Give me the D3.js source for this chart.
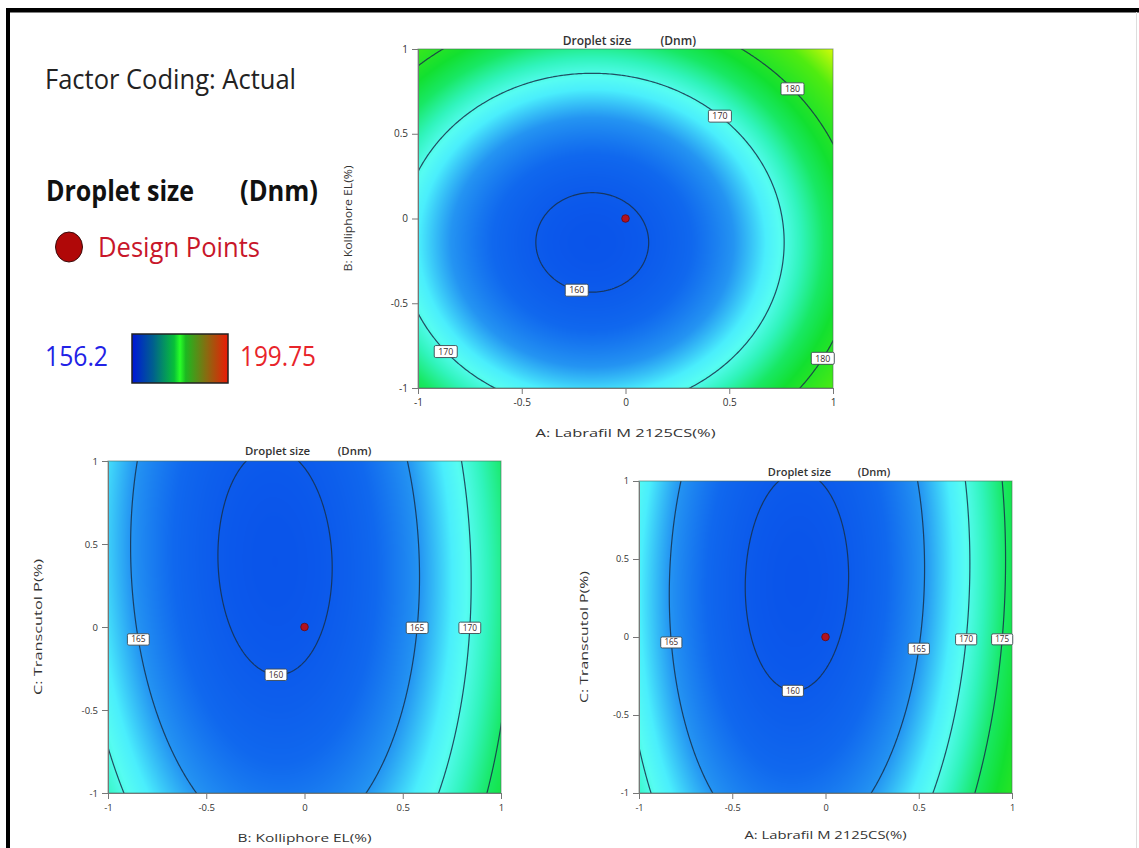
<!DOCTYPE html>
<html>
<head>
<meta charset="utf-8">
<script src="https://cdn.jsdelivr.net/npm/d3@7"></script>
<style>
	body { margin: 0; background: #fff; }
	svg text { font-family: "Open Sans", "Noto Sans", sans-serif; }
</style>
</head>
<body>
<svg id="chart" width="1139" height="848"></svg>
<script>

// response surface model (coded factors -1..1)
var factorNames  = ["A: Labrafil M 2125CS(%)", "B: Kolliphore EL(%)", "C: Transcutol P(%)"];
var termNames    = ["Intercept", "A", "B", "C", "AB", "AC", "BC", "A2", "B2", "C2"];
var coefficients = [159.6, 4.1, 3.1, -1.5, 0, -0.5, 0.5, 12.8, 11.0, 2.0];

var responseName  = "Droplet size";
var responseUnit  = "(Dnm)";
var responseRange = [156.2, 199.75];
var tickValues    = [-1, -0.5, 0, 0.5, 1];
var designPoints  = [[0, 0, 0]];

// contour levels and where their labels sit (level, x factor, y factor)
var levelsAB = [160, 170, 180];
var levelsBC = [160, 165, 170, 175];
var levelsAC = [160, 165, 170, 175];
var labelsAB = [[180, 0.83, 0.80], [170, 0.48, 0.64], [160, -0.23, -0.40], [170, -0.87, -0.78], [180, 0.925, -0.80]];
var labelsBC = [[165, -0.84, -0.07], [160, -0.14, -0.25], [165, 0.59, -0.01], [170, 0.86, -0.01]];
var labelsAC = [[165, -0.83, -0.04], [160, -0.17, -0.34], [165, 0.49, -0.07], [170, 0.74, -0.01], [175, 0.94, -0.01]];

// colour ramp used on the surface
var rampValues = [156.2, 159, 162, 165, 168, 169.5, 172, 175, 178, 185, 191, 199.75];
var rampColors = ["#0636d0", "#0a54ea", "#1068ee", "#2494f2", "#4aeefc", "#56fcf2", "#30f4bc", "#18e864", "#12e030", "#50ec10", "#dcfc08", "#ff2000"];


var svg = d3.select("#chart");

var color = d3.scaleLinear()
	.domain(rampValues)
	.range(rampColors)
	.interpolate(d3.interpolateRgb)
	.clamp(true);

function model(f) {
	var a = f[0], b = f[1], c = f[2], k = coefficients;
	return k[0] + k[1]*a + k[2]*b + k[3]*c + k[4]*a*b + k[5]*a*c + k[6]*b*c
		+ k[7]*a*a + k[8]*b*b + k[9]*c*c;
}

var panels = [
	{ xf: 0, yf: 1, levels: levelsAB, labels: labelsAB, left: 418, right: 833, top: 49, bottom: 388, s: 1.0,
	  titleY: 45, xlabY: 437, ylabX: 352, ylabLen: 106, xlabLen: 180 },
	{ xf: 1, yf: 2, levels: levelsBC, labels: labelsBC, left: 108, right: 501, top: 461, bottom: 793, s: 0.95,
	  titleY: 455, xlabY: 842, ylabX: 42, ylabLen: 136, xlabLen: 134 },
	{ xf: 0, yf: 2, levels: levelsAC, labels: labelsAC, left: 639, right: 1012, top: 481, bottom: 793, s: 0.92,
	  titleY: 476, xlabY: 839, ylabX: 588, ylabLen: 132, xlabLen: 162 }
];

panels.forEach(function(p, idx) {

	var sx = d3.scaleLinear().domain([-1, 1]).range([p.left, p.right]);
	var sy = d3.scaleLinear().domain([-1, 1]).range([p.bottom, p.top]);
	var w = p.right - p.left, h = p.bottom - p.top;

	var point = function(x, y) {
		var f = [0, 0, 0];
		f[p.xf] = x;
		f[p.yf] = y;
		return f;
	};

	// surface raster
	var canvas = document.createElement("canvas");
	canvas.width = w;
	canvas.height = h;
	var ctx = canvas.getContext("2d");
	var img = ctx.createImageData(w, h);
	for (var j = 0; j < h; j++) {
		for (var i = 0; i < w; i++) {
			var c = d3.rgb(color(model(point(sx.invert(p.left + i + 0.5), sy.invert(p.top + j + 0.5)))));
			var o = (j * w + i) * 4;
			img.data[o] = c.r; img.data[o+1] = c.g; img.data[o+2] = c.b; img.data[o+3] = 255;
		}
	}
	ctx.putImageData(img, 0, 0);

	var g = svg.append("g");

	g.append("clipPath")
		.attr("id", "clip" + idx)
		.append("rect")
		.attr("x", p.left).attr("y", p.top)
		.attr("width", w).attr("height", h);

	g.append("image")
		.attr("x", p.left).attr("y", p.top)
		.attr("width", w).attr("height", h)
		.attr("preserveAspectRatio", "none")
		.attr("href", canvas.toDataURL());

	// contour lines from a grid slightly larger than the plot
	var n = 212, lo = -1.06, hi = 1.06, step = (hi - lo) / n;
	var values = new Array(n * n);
	for (var r = 0; r < n; r++) {
		for (var q = 0; q < n; q++) {
			values[r * n + q] = model(point(lo + (q + 0.5) * step, hi - (r + 0.5) * step));
		}
	}
	var contours = d3.contours().size([n, n]).thresholds(p.levels)(values);

	var toPx = function(pt) {
		return [sx(lo + pt[0] * step), sy(hi - pt[1] * step)];
	};
	var path = d3.geoPath(d3.geoTransform({
		point: function(x, y) {
			var pp = toPx([x, y]);
			this.stream.point(pp[0], pp[1]);
		}
	}));

	g.append("g")
		.attr("clip-path", "url(#clip" + idx + ")")
		.selectAll("path")
		.data(contours)
		.enter().append("path")
		.attr("d", path)
		.attr("fill", "none")
		.attr("stroke", "#17304a")
		.attr("stroke-width", 1.2)
		.attr("stroke-opacity", 0.85);

	// plot frame
	g.append("rect")
		.attr("x", p.left).attr("y", p.top)
		.attr("width", w).attr("height", h)
		.attr("fill", "none")
		.attr("stroke", "#4a6a5a")
		.attr("stroke-opacity", 0.6)
		.attr("stroke-width", 1);

	// contour labels, snapped to the nearest point of their line
	p.labels.forEach(function(lb) {
		var cont = contours.filter(function(d) { return d.value === lb[0]; })[0];
		var target = [sx(lb[1]), sy(lb[2])];
		var best = target, bestD = Infinity;
		cont.coordinates.forEach(function(poly) {
			poly.forEach(function(ring) {
				ring.forEach(function(pt) {
					var pp = toPx(pt);
					if (pp[0] < p.left || pp[0] > p.right || pp[1] < p.top || pp[1] > p.bottom) return;
					var d = (pp[0]-target[0])*(pp[0]-target[0]) + (pp[1]-target[1])*(pp[1]-target[1]);
					if (d < bestD) { bestD = d; best = pp; }
				});
			});
		});
		var bw = 23 * p.s, bh = 12 * p.s;
		g.append("rect")
			.attr("x", best[0] - bw/2).attr("y", best[1] - bh/2)
			.attr("width", bw).attr("height", bh)
			.attr("rx", 1.5)
			.attr("fill", "#fff")
			.attr("stroke", "#3c4a50")
			.attr("stroke-width", 0.9);
		g.append("text")
			.attr("x", best[0]).attr("y", best[1] + 3.2 * p.s)
			.attr("text-anchor", "middle")
			.attr("font-size", 8.8 * p.s)
			.attr("fill", "#3a2a2a")
			.text(lb[0]);
	});

	// design points
	g.selectAll("circle.dp")
		.data(designPoints)
		.enter().append("circle")
		.attr("class", "dp")
		.attr("cx", function(d) { return sx(d[p.xf]); })
		.attr("cy", function(d) { return sy(d[p.yf]); })
		.attr("r", 3.8)
		.attr("fill", "#b3121f")
		.attr("stroke", "#6a0a10")
		.attr("stroke-width", 0.8);

	// axes
	var fmt = function(d) { return String(d); };
	var ax = g.append("g")
		.attr("transform", "translate(0," + p.bottom + ")")
		.call(d3.axisBottom(sx).tickValues(tickValues).tickFormat(fmt).tickSize(6).tickSizeOuter(0).tickPadding(5));
	var ay = g.append("g")
		.attr("transform", "translate(" + p.left + ",0)")
		.call(d3.axisLeft(sy).tickValues(tickValues).tickFormat(fmt).tickSize(6).tickSizeOuter(0).tickPadding(4));
	[ax, ay].forEach(function(a) {
		a.select(".domain").attr("stroke", "#777");
		a.selectAll(".tick line").attr("stroke", "#777");
		a.selectAll(".tick text")
			.attr("fill", "#333")
			.attr("font-size", 10 * p.s)
			.style("font-family", '"Open Sans", sans-serif');
	});

	// titles
	var cx = (p.left + p.right) / 2;
	g.append("text")
		.attr("x", cx + 6 * p.s).attr("y", p.titleY)
		.attr("text-anchor", "end")
		.attr("font-size", 12 * p.s)
		.attr("font-weight", 600)
		.attr("fill", "#333")
		.text(responseName);
	g.append("text")
		.attr("x", cx + 35 * p.s).attr("y", p.titleY)
		.attr("font-size", 12 * p.s)
		.attr("font-weight", 600)
		.attr("fill", "#333")
		.text(responseUnit);

	g.append("text")
		.attr("x", cx).attr("y", p.xlabY)
		.attr("text-anchor", "middle")
		.attr("font-size", 11.5 * p.s)
		.attr("fill", "#333")
		.attr("textLength", p.xlabLen)
		.attr("lengthAdjust", "spacingAndGlyphs")
		.text(factorNames[p.xf]);

	g.append("text")
		.attr("transform", "translate(" + p.ylabX + "," + (p.top + p.bottom) / 2 + ") rotate(-90)")
		.attr("text-anchor", "middle")
		.attr("font-size", 11 * p.s)
		.attr("fill", "#333")
		.attr("textLength", p.ylabLen)
		.attr("lengthAdjust", "spacingAndGlyphs")
		.text(factorNames[p.yf]);
});


// legend block on the left
var leg = svg.append("g");

leg.append("text")
	.attr("x", 45).attr("y", 89)
	.attr("font-size", 28)
	.attr("fill", "#222")
	.attr("textLength", 251)
	.attr("lengthAdjust", "spacingAndGlyphs")
	.text("Factor Coding: Actual");

leg.append("text")
	.attr("x", 46).attr("y", 201)
	.attr("font-size", 28)
	.attr("font-weight", "bold")
	.attr("fill", "#111")
	.attr("textLength", 148)
	.attr("lengthAdjust", "spacingAndGlyphs")
	.text(responseName);

leg.append("text")
	.attr("x", 240).attr("y", 201)
	.attr("font-size", 28)
	.attr("font-weight", "bold")
	.attr("fill", "#111")
	.attr("textLength", 78)
	.attr("lengthAdjust", "spacingAndGlyphs")
	.text("(Dnm)");

leg.append("ellipse")
	.attr("cx", 69).attr("cy", 247)
	.attr("rx", 13.5).attr("ry", 15)
	.attr("fill", "#b00808")
	.attr("stroke", "#3a0a0a")
	.attr("stroke-width", 1);

leg.append("text")
	.attr("x", 98).attr("y", 257)
	.attr("font-size", 28)
	.attr("fill", "#c8162a")
	.attr("textLength", 162)
	.attr("lengthAdjust", "spacingAndGlyphs")
	.text("Design Points");

var grad = svg.append("defs").append("linearGradient")
	.attr("id", "legendGrad");
[[0, "#0016d8"], [0.22, "#00608e"], [0.44, "#08c038"], [0.5, "#28ff28"], [0.56, "#1cb820"], [0.78, "#8a6a10"], [1, "#ec1a06"]]
	.forEach(function(s) {
		grad.append("stop").attr("offset", s[0]).attr("stop-color", s[1]);
	});

leg.append("rect")
	.attr("x", 132).attr("y", 334)
	.attr("width", 96).attr("height", 49)
	.attr("fill", "url(#legendGrad)")
	.attr("stroke", "#222")
	.attr("stroke-width", 1.5);

leg.append("text")
	.attr("x", 45).attr("y", 366)
	.attr("font-size", 28)
	.attr("fill", "#2222e6")
	.attr("textLength", 63)
	.attr("lengthAdjust", "spacingAndGlyphs")
	.text(responseRange[0]);

leg.append("text")
	.attr("x", 240).attr("y", 366)
	.attr("font-size", 28)
	.attr("fill", "#e8242a")
	.attr("textLength", 76)
	.attr("lengthAdjust", "spacingAndGlyphs")
	.text(responseRange[1]);

// picture frame
svg.append("rect").attr("x", 6).attr("y", 8).attr("width", 1133).attr("height", 4.5).attr("fill", "#000");
svg.append("rect").attr("x", 6).attr("y", 8).attr("width", 4).attr("height", 840).attr("fill", "#000");
svg.append("rect").attr("x", 1136).attr("y", 12).attr("width", 1).attr("height", 836).attr("fill", "#ddd");

</script>
</body>
</html>
